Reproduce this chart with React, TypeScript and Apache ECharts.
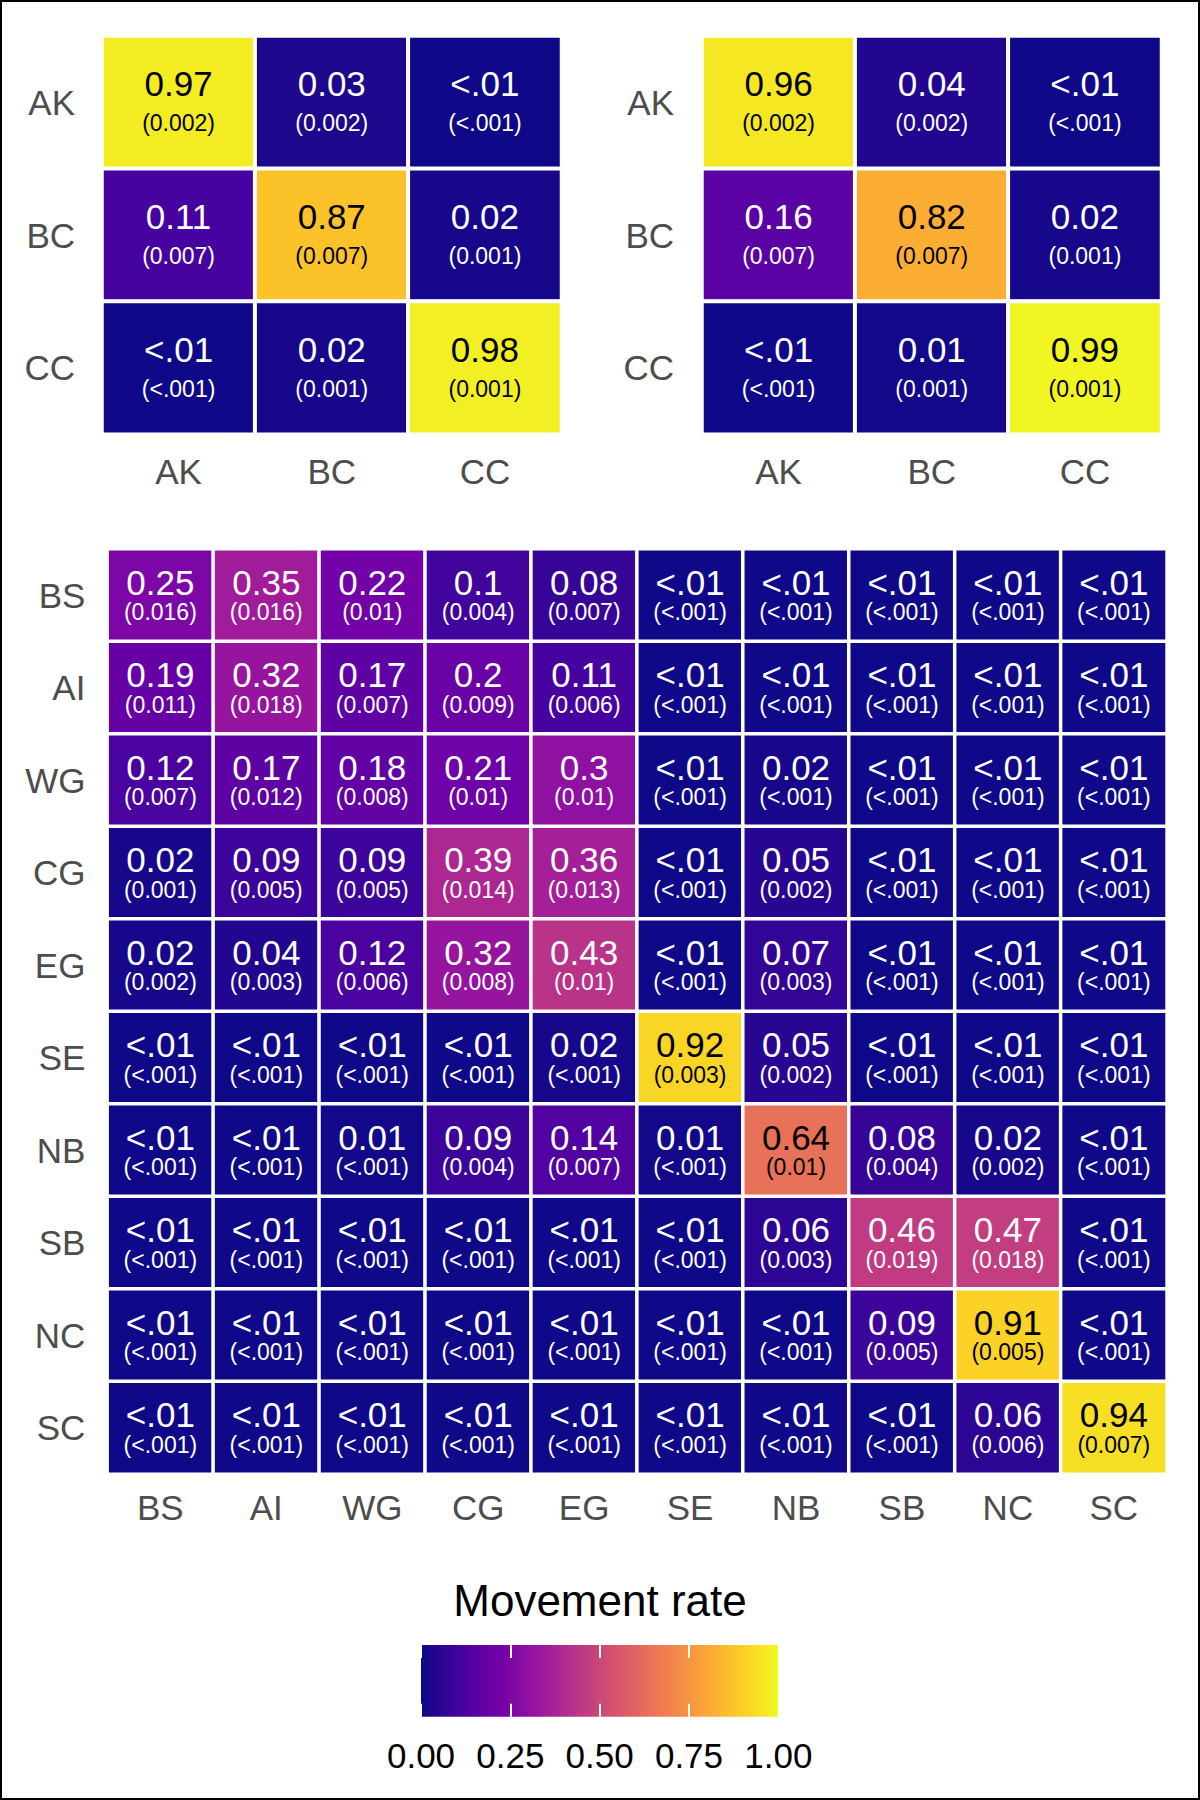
import React, { useEffect, useRef } from "react";
import * as echarts from "echarts";

// ---------- data ----------
const topRegions = ["AK", "BC", "CC"];
// rows = from, columns = to ; "<.01" cells estimated at 0.003, "<.001" SEs at 0.0005
const leftRates = [
  [0.97, 0.03, 0.003],
  [0.11, 0.87, 0.02],
  [0.003, 0.02, 0.98],
];
const leftSE = [
  [0.002, 0.002, 0.0005],
  [0.007, 0.007, 0.001],
  [0.0005, 0.001, 0.001],
];
const rightRates = [
  [0.96, 0.04, 0.003],
  [0.16, 0.82, 0.02],
  [0.003, 0.01, 0.99],
];
const rightSE = [
  [0.002, 0.002, 0.0005],
  [0.007, 0.007, 0.001],
  [0.0005, 0.001, 0.001],
];

const regions = ["BS", "AI", "WG", "CG", "EG", "SE", "NB", "SB", "NC", "SC"];
const regionRates = [
  [0.25, 0.35, 0.22, 0.1, 0.08, 0.003, 0.003, 0.003, 0.003, 0.003],
  [0.19, 0.32, 0.17, 0.2, 0.11, 0.003, 0.003, 0.003, 0.003, 0.003],
  [0.12, 0.17, 0.18, 0.21, 0.3, 0.003, 0.02, 0.003, 0.003, 0.003],
  [0.02, 0.09, 0.09, 0.39, 0.36, 0.003, 0.05, 0.003, 0.003, 0.003],
  [0.02, 0.04, 0.12, 0.32, 0.43, 0.003, 0.07, 0.003, 0.003, 0.003],
  [0.003, 0.003, 0.003, 0.003, 0.02, 0.92, 0.05, 0.003, 0.003, 0.003],
  [0.003, 0.003, 0.01, 0.09, 0.14, 0.01, 0.64, 0.08, 0.02, 0.003],
  [0.003, 0.003, 0.003, 0.003, 0.003, 0.003, 0.06, 0.46, 0.47, 0.003],
  [0.003, 0.003, 0.003, 0.003, 0.003, 0.003, 0.003, 0.09, 0.91, 0.003],
  [0.003, 0.003, 0.003, 0.003, 0.003, 0.003, 0.003, 0.003, 0.06, 0.94],
];
const regionSE = [
  [0.016, 0.016, 0.01, 0.004, 0.007, 0.0005, 0.0005, 0.0005, 0.0005, 0.0005],
  [0.011, 0.018, 0.007, 0.009, 0.006, 0.0005, 0.0005, 0.0005, 0.0005, 0.0005],
  [0.007, 0.012, 0.008, 0.01, 0.01, 0.0005, 0.0005, 0.0005, 0.0005, 0.0005],
  [0.001, 0.005, 0.005, 0.014, 0.013, 0.0005, 0.002, 0.0005, 0.0005, 0.0005],
  [0.002, 0.003, 0.006, 0.008, 0.01, 0.0005, 0.003, 0.0005, 0.0005, 0.0005],
  [0.0005, 0.0005, 0.0005, 0.0005, 0.0005, 0.003, 0.002, 0.0005, 0.0005, 0.0005],
  [0.0005, 0.0005, 0.0005, 0.004, 0.007, 0.0005, 0.01, 0.004, 0.002, 0.0005],
  [0.0005, 0.0005, 0.0005, 0.0005, 0.0005, 0.0005, 0.003, 0.019, 0.018, 0.0005],
  [0.0005, 0.0005, 0.0005, 0.0005, 0.0005, 0.0005, 0.0005, 0.005, 0.005, 0.0005],
  [0.0005, 0.0005, 0.0005, 0.0005, 0.0005, 0.0005, 0.0005, 0.0005, 0.006, 0.007],
];

const legendTitle = "Movement rate";
const plasma = [
  "#0D0887", "#47039F", "#7301A8", "#9C179E", "#BD3786",
  "#D8576B", "#ED7953", "#FA9E3B", "#FDC926", "#F0F921",
];

// ---------- helpers ----------
const FONT = "'Liberation Sans', Arial, Helvetica, sans-serif";
const fmtRate = (v: number) => (v < 0.01 ? "<.01" : String(Number(v.toFixed(2))));
const fmtSE = (v: number) => (v < 0.001 ? "<.001" : String(Number(v.toFixed(3))));

function buildData(rates: number[][]) {
  const out: any[] = [];
  rates.forEach((row, i) => row.forEach((v, j) => out.push([j, i, v])));
  return out;
}

function makeFormatter(rates: number[][], se: number[][]) {
  return (p: any) => {
    const [j, i] = p.value;
    const v = rates[i][j];
    const dark = v > 0.55;
    const a = dark ? "ka" : "wa";
    const b = dark ? "kb" : "wb";
    return `{${a}|${fmtRate(v)}}\n{${b}|(${fmtSE(se[i][j])})}`;
  };
}

function rich(l1: number, l2: number) {
  return {
    wa: { color: "#fff", fontSize: 35, lineHeight: l1, fontFamily: FONT },
    wb: { color: "#fff", fontSize: 23, lineHeight: l2, fontFamily: FONT },
    ka: { color: "#000", fontSize: 35, lineHeight: l1, fontFamily: FONT },
    kb: { color: "#000", fontSize: 23, lineHeight: l2, fontFamily: FONT },
  };
}

const catAxisLabel = (margin: number) => ({
  color: "#4D4D4D",
  fontSize: 35,
  fontFamily: FONT,
  margin,
});

export default function App() {
  const ref = useRef<HTMLDivElement>(null);

  useEffect(() => {
    if (!ref.current) return;
    const chart = echarts.init(ref.current, undefined, { renderer: "svg" });

    const catX = (gridIndex: number, data: string[], margin: number) => ({
      type: "category",
      gridIndex,
      data,
      position: "bottom",
      axisLine: { show: false },
      axisTick: { show: false },
      splitLine: { show: false },
      axisLabel: catAxisLabel(margin),
    });
    const catY = (gridIndex: number, data: string[], margin: number) => ({
      type: "category",
      gridIndex,
      data,
      inverse: true,
      axisLine: { show: false },
      axisTick: { show: false },
      splitLine: { show: false },
      axisLabel: catAxisLabel(margin),
    });
    const legendX = (position: string, showLabel: boolean) => ({
      type: "value",
      gridIndex: 3,
      position,
      min: 0,
      max: 1,
      interval: 0.25,
      z: 10,
      axisLine: { show: false },
      splitLine: { show: false },
      axisTick: { show: true, inside: true, length: 13, lineStyle: { color: "#fff", width: 2 } },
      axisLabel: {
        show: showLabel,
        showMinLabel: true,
        showMaxLabel: true,
        color: "#000",
        fontSize: 35,
        fontFamily: FONT,
        margin: 21,
        formatter: (v: number) => v.toFixed(2),
      },
    });

    const heat = (idx: number, rates: number[][], se: number[][], bw: number, l1: number, l2: number) => ({
      type: "heatmap",
      xAxisIndex: idx,
      yAxisIndex: idx,
      data: buildData(rates),
      itemStyle: { borderColor: "#fff", borderWidth: bw },
      label: { show: true, formatter: makeFormatter(rates, se), rich: rich(l1, l2) },
      emphasis: { disabled: true },
    });

    const legendRect = { x: 421, y: 1645, w: 357.3, h: 71.7 };

    chart.setOption({
      animation: false,
      backgroundColor: "#fff",
      textStyle: { fontFamily: FONT },
      title: {
        text: legendTitle,
        left: "center",
        top: 1578,
        padding: 0,
        textStyle: { fontSize: 44, fontWeight: "normal", color: "#000", fontFamily: FONT },
      },
      grid: [
        { left: 102, top: 36, width: 459.5, height: 398.3 },
        { left: 702, top: 36, width: 459.5, height: 398.3 },
        { left: 107.4, top: 549, width: 1059.4, height: 925 },
        { left: legendRect.x, top: legendRect.y, width: legendRect.w, height: legendRect.h },
      ],
      xAxis: [
        catX(0, topRegions, 20),
        catX(1, topRegions, 20),
        catX(2, regions, 16),
        legendX("bottom", true),
        legendX("top", false),
      ],
      yAxis: [
        catY(0, topRegions, 27),
        catY(1, topRegions, 28),
        catY(2, regions, 22),
        { type: "value", gridIndex: 3, show: false, min: 0, max: 1 },
      ],
      visualMap: {
        type: "continuous",
        show: false,
        min: 0,
        max: 1,
        dimension: 2,
        seriesIndex: [0, 1, 2],
        inRange: { color: plasma },
      },
      graphic: [
        {
          type: "rect",
          z: 1,
          shape: { x: legendRect.x, y: legendRect.y, width: legendRect.w, height: legendRect.h },
          style: {
            fill: new echarts.graphic.LinearGradient(
              0, 0, 1, 0,
              plasma.map((c, k) => ({ offset: k / (plasma.length - 1), color: c }))
            ),
          },
        },
        {
          type: "rect",
          z: 100,
          shape: { x: 1, y: 1, width: 1198, height: 1798 },
          style: { fill: "none", stroke: "#000", lineWidth: 2 },
        },
      ],
      series: [
        heat(0, leftRates, leftSE, 4, 42, 37),
        heat(1, rightRates, rightSE, 4, 42, 37),
        heat(2, regionRates, regionSE, 3.5, 34, 26),
      ],
    });

    return () => chart.dispose();
  }, []);

  return (
    <div
      ref={ref}
      style={{ position: "absolute", left: 0, top: 0, width: 1200, height: 1800 }}
    />
  );
}
